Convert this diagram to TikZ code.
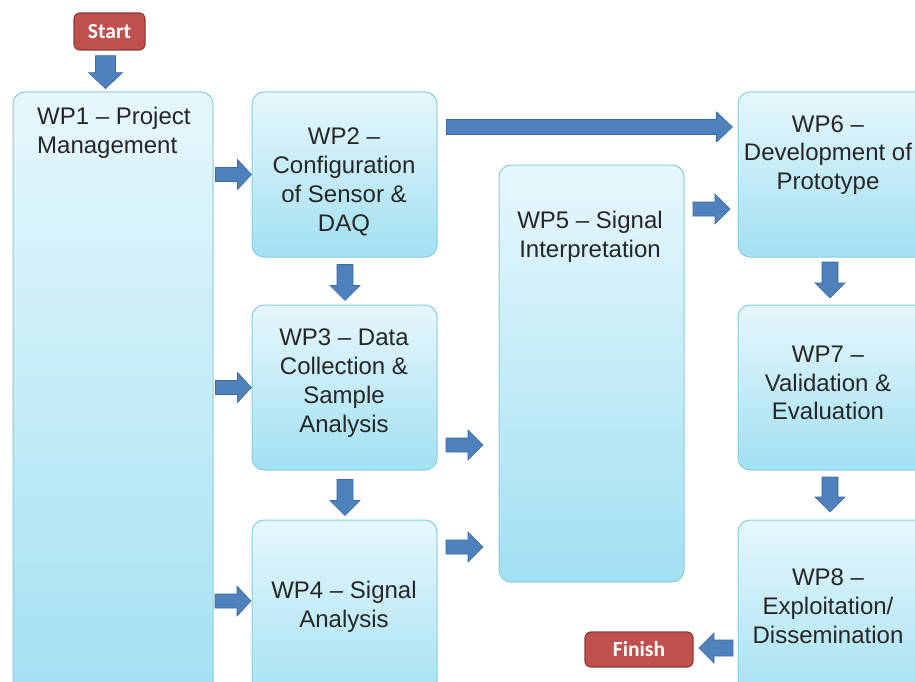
\documentclass[tikz,border=0pt]{standalone}
\usepackage{fontspec}
\setmainfont{Liberation Sans}
\newfontfamily\btnfont{Carlito}
\usetikzlibrary{calc}
\definecolor{wpline}{HTML}{86CEDF}
\definecolor{wptop}{HTML}{E6F7FC}
\definecolor{wpbot}{HTML}{A2E0F2}
\definecolor{arrfill}{HTML}{4F81BD}
\definecolor{arrline}{HTML}{3A6AA3}
\definecolor{redfill}{HTML}{C0504D}
\definecolor{redline}{HTML}{8E3B39}
\begin{document}
\begin{tikzpicture}[x=1pt,y=-1pt,
  wpbox/.style={draw=wpline, line width=1pt, rounded corners=12pt,
    top color=wptop, bottom color=wpbot, inner sep=0pt},
  wptext/.style={font=\fontsize{24}{28.8}\selectfont, align=center, inner sep=0pt, text=black!85},
  endbox/.style={draw=redline, line width=1.2pt, fill=redfill, rounded corners=6pt,
    text=white, font=\btnfont\bfseries\fontsize{21.5}{24}\selectfont, inner sep=0pt},
  blockarrow/.style={fill=arrfill, draw=arrline, line width=0.6pt},
  pics/barrow/.style n args={4}{code={%
    \path[blockarrow] (0,-#2) -- ({#1-#4},-#2) -- ({#1-#4},-#3) -- (#1,0)
      -- ({#1-#4},#3) -- ({#1-#4},#2) -- (0,#2) -- cycle;}}
]
\clip (0,0) rectangle (915,682);
\fill[white] (0,0) rectangle (915,682);

% work package boxes
\node[wpbox, minimum width=200pt, minimum height=620pt] (wp1) at (113,402) {};
\node[wpbox, minimum width=185pt, minimum height=165pt] (wp2) at (344.5,174.5) {};
\node[wpbox, minimum width=185pt, minimum height=165pt] (wp3) at (344.5,387.5) {};
\node[wpbox, minimum width=185pt, minimum height=190pt] (wp4) at (344.5,615) {};
\node[wpbox, minimum width=185pt, minimum height=417pt] (wp5) at (591.5,373.5) {};
\node[wpbox, minimum width=197pt, minimum height=165pt] (wp6) at (836.5,174.5) {};
\node[wpbox, minimum width=197pt, minimum height=165pt] (wp7) at (836.5,387.5) {};
\node[wpbox, minimum width=197pt, minimum height=190pt] (wp8) at (836.5,615) {};

% box texts
\node[wptext, align=left, anchor=west] (t1) at (37,132.5) {WP1 -- Project\\Management};
\node[wptext] (t2) at (344,182) {WP2 --\\Configuration\\of Sensor \&\\DAQ};
\node[wptext] (t3) at (344,383) {WP3 -- Data\\Collection \&\\Sample\\Analysis};
\node[wptext] (t4) at (344,606.5) {WP4 -- Signal\\Analysis};
\node[wptext] (t5) at (590,236.5) {WP5 -- Signal\\Interpretation};
\node[wptext] (t6) at (828,155) {WP6 --\\Development of\\Prototype};
\node[wptext] (t7) at (828,383) {WP7 --\\Validation \&\\Evaluation};
\node[wptext] (t8) at (828,606) {WP8 --\\Exploitation/\\Dissemination};

% start and finish
\node[endbox, minimum width=71pt, minimum height=37pt] (start) at (109.5,31.5) {Start};
\node[endbox, minimum width=108pt, minimum height=35pt] (finish) at (639,649.5) {Finish};

% block arrows
\pic[rotate=-90] at ($(start.south)+(-4,5)$) {barrow={33}{10}{17}{16}};
\pic at ($(wp1.east |- wp2.west)+(2,0)$) {barrow={36}{7}{15}{14}};
\pic at ($(wp1.east |- wp3.west)+(2,0)$) {barrow={36}{7}{15}{14}};
\pic at (215,601) {barrow={36}{7}{15}{14}};
\pic[rotate=-90] at ($(wp2.south)+(0.5,7)$) {barrow={36}{8}{15}{15}};
\pic[rotate=-90] at ($(wp3.south)+(0.5,9)$) {barrow={36}{8}{15}{15}};
\pic at ($(wp2.east)+(9,-47.5)$) {barrow={286}{7.5}{15}{16}};
\pic at (446,445) {barrow={37}{7}{15}{15}};
\pic at (446,547) {barrow={37}{7}{15}{15}};
\pic at (693,209) {barrow={37}{7}{15}{15}};
\pic[rotate=-90] at (830,262) {barrow={36}{8}{15}{15}};
\pic[rotate=-90] at (830,477) {barrow={35}{8}{15}{15}};
\pic[rotate=180] at (733,648) {barrow={34}{8}{15}{15}};
\end{tikzpicture}
\end{document}
